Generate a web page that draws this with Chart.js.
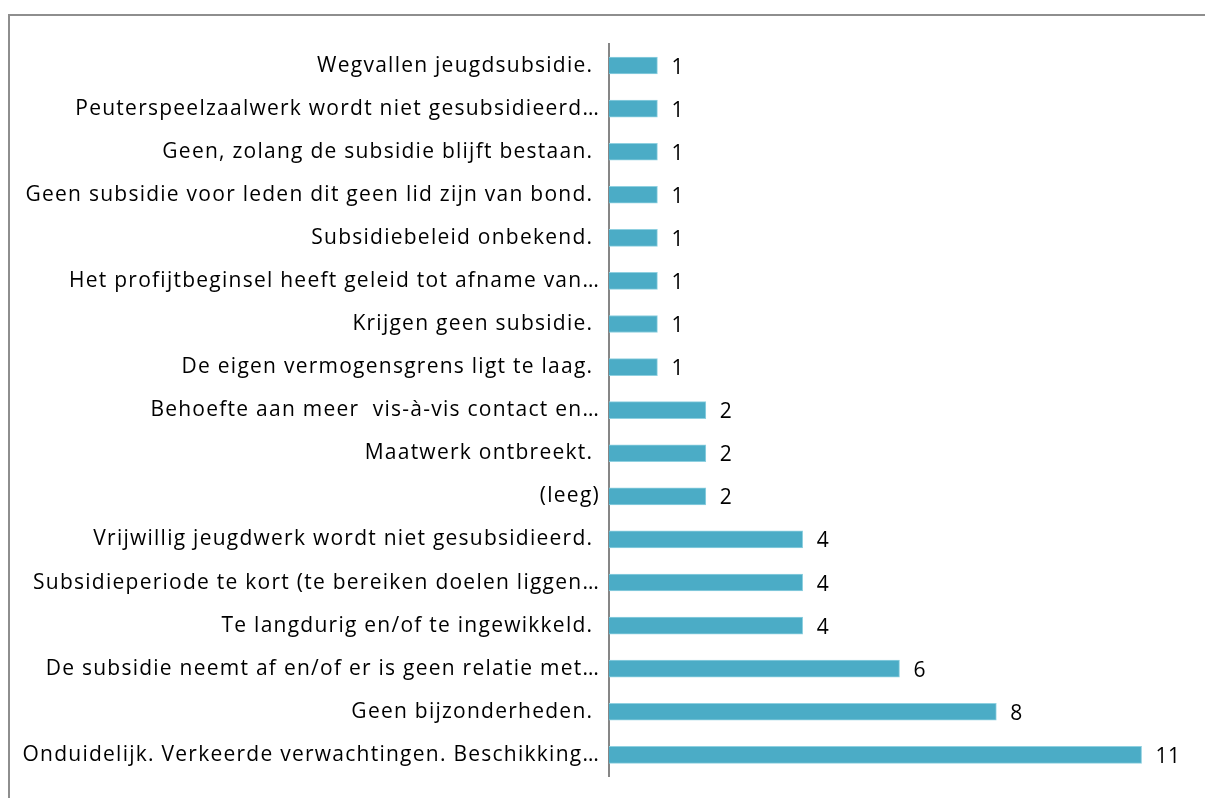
<!DOCTYPE html>
<html>
<head>
<meta charset="utf-8">
<script src="https://cdn.jsdelivr.net/npm/chart.js@4"></script>
<style>
  html, body { margin: 0; padding: 0; background: #fff; overflow: hidden; }
  #wrap { position: relative; width: 1205px; height: 798px; }
  #frame { position: absolute; left: 8px; top: 14px; width: 1220px; height: 800px;
           border-top: 2px solid #8e8e8e; border-left: 2px solid #8e8e8e; }
  canvas { position: absolute; left: 0; top: 0; }
</style>
</head>
<body>
<div id="wrap">
  <div id="frame"></div>
  <canvas id="myChart" width="1205" height="798"></canvas>
</div>
<script>
const categories = [
  'Wegvallen jeugdsubsidie. ',
  'Peuterspeelzaalwerk wordt niet gesubsidieerd\u2026',
  'Geen, zolang de subsidie blijft bestaan. ',
  'Geen subsidie voor leden dit geen lid zijn van bond. ',
  'Subsidiebeleid onbekend. ',
  'Het profijtbeginsel heeft geleid tot afname van\u2026',
  'Krijgen geen subsidie. ',
  'De eigen vermogensgrens ligt te laag. ',
  'Behoefte aan meer  vis-\u00e0-vis contact en\u2026',
  'Maatwerk ontbreekt. ',
  '(leeg)',
  'Vrijwillig jeugdwerk wordt niet gesubsidieerd. ',
  'Subsidieperiode te kort (te bereiken doelen liggen\u2026',
  'Te langdurig en/of te ingewikkeld. ',
  'De subsidie neemt af en/of er is geen relatie met\u2026',
  'Geen bijzonderheden. ',
  'Onduidelijk. Verkeerde verwachtingen. Beschikking\u2026'
];
const counts = [1, 1, 1, 1, 1, 1, 1, 1, 2, 2, 2, 4, 4, 4, 6, 8, 11];

const FONT = '"Open Sans", "Noto Sans", sans-serif';

// the original labels run a bit wider than Open Sans, so space the letters slightly
const spacing = {
  id: 'spacing',
  beforeDraw(chart) { chart.ctx.letterSpacing = '1.25px'; }
};

// value labels to the right of each bar
const valueLabels = {
  id: 'valueLabels',
  afterDatasetsDraw(chart) {
    const ctx = chart.ctx;
    const meta = chart.getDatasetMeta(0);
    ctx.save();
    ctx.letterSpacing = '0.5px';
    ctx.fillStyle = '#000';
    ctx.font = '21px ' + FONT;
    ctx.textAlign = 'left';
    ctx.textBaseline = 'middle';
    meta.data.forEach(function(bar, i) {
      ctx.fillText(String(counts[i]), bar.x + 14, bar.y + 2);
    });
    ctx.restore();
  }
};

const ctx = document.getElementById('myChart');
const chart = new Chart(ctx, {
  type: 'bar',
  data: {
    labels: categories,
    datasets: [{
      data: counts,
      backgroundColor: '#4bacc6',
      borderColor: '#8fd0e0',
      borderWidth: 1,
      barThickness: 17
    }]
  },
  options: {
    indexAxis: 'y',
    responsive: false,
    animation: false,
    layout: { padding: { top: 44, bottom: 20, right: 15, left: 0 } },
    plugins: {
      legend: { display: false },
      tooltip: { enabled: false }
    },
    scales: {
      x: {
        display: false,
        min: 0,
        max: 12
      },
      y: {
        grid: { display: true, drawOnChartArea: false, drawTicks: false, color: 'rgba(0,0,0,0)' },
        border: { display: true, color: '#868686', width: 2 },
        ticks: {
          color: '#000',
          padding: 9,
          autoSkip: false,
          font: { family: FONT, size: 21 }
        },
        afterFit(scale) { scale.width = 609; }
      }
    }
  },
  plugins: [spacing, valueLabels]
});
</script>
</body>
</html>
